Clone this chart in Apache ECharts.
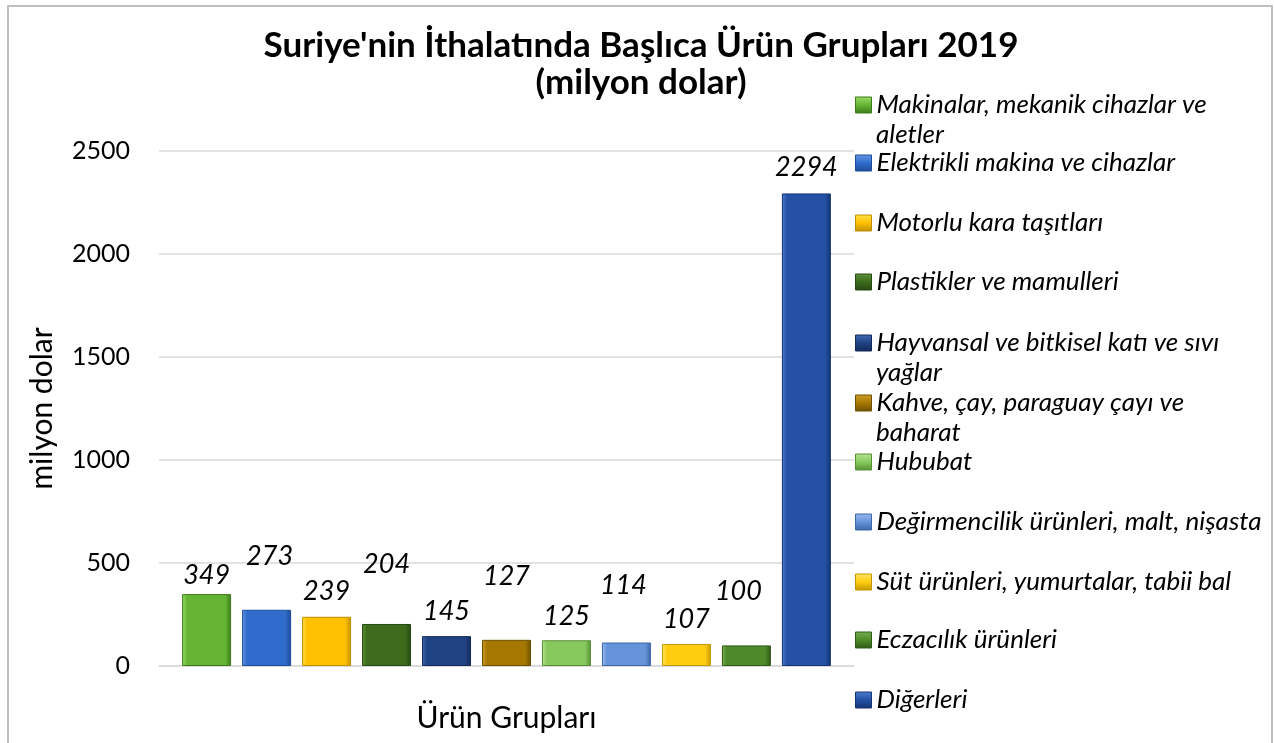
<!DOCTYPE html>
<html>
<head>
<meta charset="utf-8">
<script src="https://cdn.jsdelivr.net/npm/echarts@6/dist/echarts.min.js"></script>
<style>
html,body{margin:0;padding:0;background:#fff;}
#chart{width:1274px;height:743px;}
</style>
</head>
<body>
<div id="chart"></div>
<script>
// ---- data ----
const titleText = "Suriye'nin İthalatında Başlıca Ürün Grupları 2019\n(milyon dolar)";
const productGroups = [
  "Makinalar, mekanik cihazlar ve aletler",
  "Elektrikli makina ve cihazlar",
  "Motorlu kara taşıtları",
  "Plastikler ve mamulleri",
  "Hayvansal ve bitkisel katı ve sıvı yağlar",
  "Kahve, çay, paraguay çayı ve baharat",
  "Hububat",
  "Değirmencilik ürünleri, malt, nişasta",
  "Süt ürünleri, yumurtalar, tabii bal",
  "Eczacılık ürünleri",
  "Diğerleri"
];
const legendLines = [
  ["Makinalar, mekanik cihazlar ve", "aletler"],
  ["Elektrikli makina ve cihazlar"],
  ["Motorlu kara taşıtları"],
  ["Plastikler ve mamulleri"],
  ["Hayvansal ve bitkisel katı ve sıvı", "yağlar"],
  ["Kahve, çay, paraguay çayı ve", "baharat"],
  ["Hububat"],
  ["Değirmencilik ürünleri, malt, nişasta"],
  ["Süt ürünleri, yumurtalar, tabii bal"],
  ["Eczacılık ürünleri"],
  ["Diğerleri"]
];
const importValues = [349, 273, 239, 204, 145, 127, 125, 114, 107, 100, 2294];
const yTicks = { min: 0, max: 2500, interval: 500 };
const yAxisName = "milyon dolar";
const xAxisName = "Ürün Grupları";

// ---- styles ----
const barColors = [
  ["#9ade66", "#65b433", "#3d7a1b"],
  ["#6699e6", "#2f6ccb", "#1d4c98"],
  ["#ffe04a", "#ffc000", "#c08f00"],
  ["#5f9339", "#3c6b1c", "#264812"],
  ["#426bb3", "#1f4383", "#13295a"],
  ["#cf9f25", "#a67800", "#6e5000"],
  ["#b5e592", "#88c95e", "#568f34"],
  ["#9bbcf0", "#6594da", "#3d67a8"],
  ["#ffe866", "#ffcc10", "#c29800"],
  ["#75ae50", "#4e8a2a", "#2f5a17"],
  ["#4f7ccd", "#2451a6", "#153471"]
];
const labelOffsets = [[0,0],[3,-35],[0,-7],[0,-41],[0,-6],[0,-45],[0,-5],[-3,-39],[0,-6],[-8,-36],[0,-8]];
const legendCenters = [105, 163, 223, 282, 343, 403, 462, 522, 582, 640, 700];
const legendLineGap = 30;
const FONT = "Lato, 'Liberation Sans', sans-serif";

function bevel(c) {
  return {
    type: 'linear', x: 0, y: 0, x2: 1, y2: 0,
    colorStops: [
      { offset: 0, color: c[0] },
      { offset: 0.1, color: c[1] },
      { offset: 0.88, color: c[1] },
      { offset: 1, color: c[2] }
    ]
  };
}
function iconGrad(c) {
  return {
    type: 'linear', x: 0, y: 0, x2: 0, y2: 1,
    colorStops: [
      { offset: 0, color: c[0] },
      { offset: 0.5, color: c[1] },
      { offset: 1, color: c[2] }
    ]
  };
}

const series = productGroups.map((name, i) => ({
  name: name,
  type: 'bar',
  barWidth: 49,
  barGap: '22.4%',
  data: [importValues[i]],
  itemStyle: {
    color: bevel(barColors[i]),
    borderColor: barColors[i][2],
    borderWidth: 1
  },
  label: {
    show: true,
    position: 'top',
    distance: 5,
    offset: labelOffsets[i],
    fontFamily: FONT,
    fontStyle: 'italic',
    fontSize: 27,
    color: '#000'
  },
  emphasis: { disabled: true }
}));

const legendText = {
  fontFamily: FONT,
  fontStyle: 'italic',
  fontSize: 26,
  lineHeight: 30,
  color: '#000'
};
const legends = [];
productGroups.forEach((name, i) => {
  legendLines[i].forEach((line, k) => {
    legends.push({
      show: true,
      orient: 'vertical',
      left: 855,
      top: legendCenters[i] + k * legendLineGap - 15,
      padding: 0,
      itemWidth: 16,
      itemHeight: 16,
      itemGap: 0,
      selectedMode: false,
      data: [k === 0
        ? { name: name, icon: 'rect', itemStyle: { color: iconGrad(barColors[i]), borderColor: barColors[i][2], borderWidth: 1 } }
        : { name: name, icon: 'none' }],
      formatter: () => line,
      textStyle: legendText
    });
  });
});

const chart = echarts.init(document.getElementById('chart'), null, { renderer: 'canvas' });
chart.setOption({
  backgroundColor: '#fff',
  animation: false,
  title: {
    text: titleText,
    left: 641,
    textAlign: 'center',
    top: 27,
    padding: 0,
    textStyle: {
      fontFamily: FONT,
      fontWeight: 'bold',
      fontSize: 35,
      lineHeight: 37,
      color: '#000'
    }
  },
  graphic: [{
    type: 'rect',
    shape: { x: 8, y: 6, width: 1264, height: 760 },
    style: { fill: 'none', stroke: '#bfbfbf', lineWidth: 2 },
    silent: true
  }],
  legend: legends,
  grid: { left: 159, right: 420, top: 151, bottom: 77, containLabel: false },
  xAxis: {
    type: 'category',
    data: [''],
    name: xAxisName,
    nameLocation: 'middle',
    nameGap: 37,
    nameTextStyle: { fontFamily: FONT, fontSize: 30, color: '#000' },
    axisLine: { show: true, lineStyle: { color: '#d9d9d9', width: 1.5 } },
    axisTick: { show: false },
    axisLabel: { show: false }
  },
  yAxis: {
    type: 'value',
    min: yTicks.min,
    max: yTicks.max,
    interval: yTicks.interval,
    name: yAxisName,
    nameLocation: 'middle',
    nameRotate: 90,
    nameGap: 102,
    nameTextStyle: { fontFamily: FONT, fontSize: 30, color: '#000' },
    axisLine: { show: false },
    axisTick: { show: false },
    axisLabel: { fontFamily: FONT, fontSize: 25, color: '#000', margin: 29, formatter: v => String(v) },
    splitLine: { lineStyle: { color: '#d9d9d9', width: 1.5 } }
  },
  series: series
});
</script>
</body>
</html>
